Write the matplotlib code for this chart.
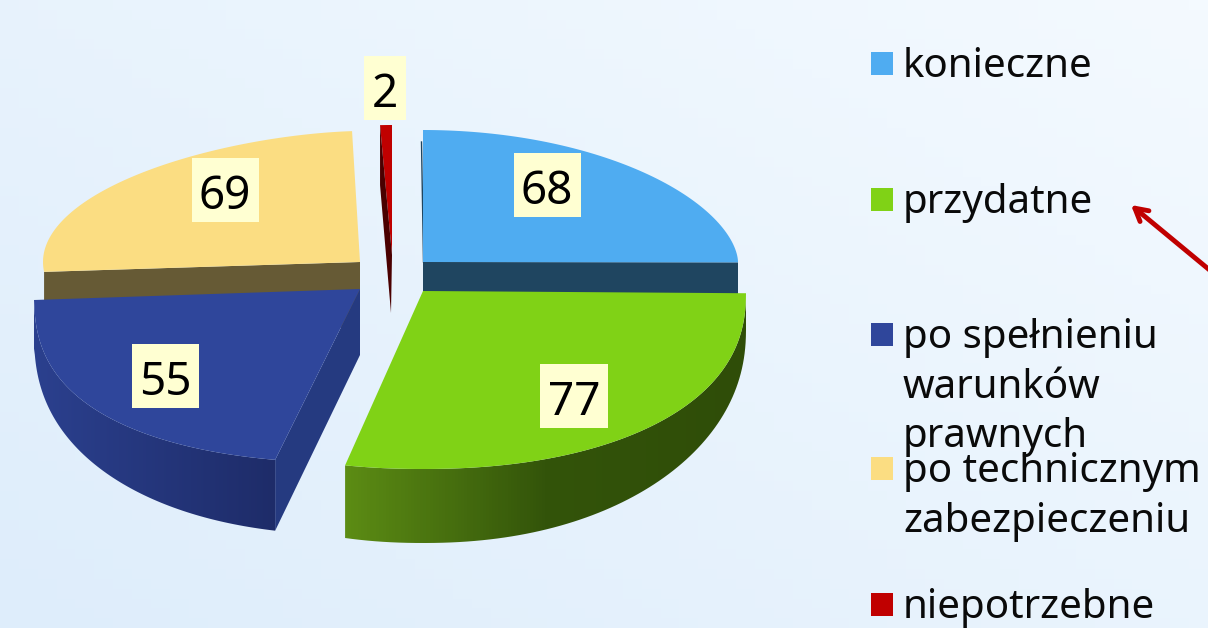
import numpy as np
import matplotlib
matplotlib.use("Agg")
import matplotlib.pyplot as plt
from matplotlib.colors import LinearSegmentedColormap
from matplotlib.patches import Polygon, Rectangle

# data
categories = ["konieczne", "przydatne", "po spełnieniu\nwarunków\nprawnych",
              "po technicznym\nzabezpieczeniu", "niepotrzebne"]
values = [68, 77, 55, 69, 2]
top_colors = ["#4facf1", "#80d216", "#2f469b", "#fbdd82", "#c00000"]
side_colors = ["#1f4560", "#3a5a0a", "#253a80", "#665a35", "#4a0000"]
wall_colors = [None, ("#5c8c14", "#33540a", "#2f4d08"), ("#2b408e", "#1e2c69"), None, None]

# per wedge look: apex x, apex y, rx, ry, y exponent, x exponent, depth at side, extra depth at front
wedge_geo = [
    (423, 262, 315, 132, 1.15, 1.0, 65, 0),
    (423, 291, 323, 178, 0.85, 0.935, 37, 37),
    (360, 289, 326, 174, 0.75, 0.885, 40, 32),
    (360, 262, 317, 131, 1.0, 1.2, 65, 0),
    (392, 255, 258, 130, 1.0, 1.0, 58, 0),
]
label_centers = [(547, 185), (574, 396), (165, 376), (225, 190), (385, 88)]
label_widths = [67, 68, 67, 67, 42]
legend_y = [77, 213, 348, 482, 618]
FONT = "Noto Sans"

angles = np.concatenate([[0], np.cumsum(values)]) * 360.0 / sum(values)


def arc_points(geo, t0, t1, n=80):
    ax0, ay0, rx, ry, p, q = geo[:6]
    th = np.radians(np.linspace(t0, t1, n))
    c = np.cos(th)
    s = np.sin(th)
    x = ax0 + rx * np.sign(s) * np.abs(s) ** q
    y = ay0 - ry * np.sign(c) * np.abs(c) ** p
    return x, y


def depth(geo, t):
    return geo[6] + geo[7] * np.maximum(0, -np.cos(np.radians(t))) ** 1.5


fig = plt.figure(figsize=(12.08, 6.28), dpi=100)
ax = fig.add_axes([0, 0, 1, 1])
ax.set_xlim(0, 1208)
ax.set_ylim(628, 0)
ax.axis("off")

# background
bg = LinearSegmentedColormap.from_list("bg", ["#deedfb", "#f4faff"])
yy, xx = np.mgrid[0:1:64j, 0:1:64j]
ax.imshow(0.55 * xx + 0.45 * (1 - yy), cmap=bg, extent=(0, 1208, 628, 0), aspect="auto", zorder=0)
ax.set_xlim(0, 1208)
ax.set_ylim(628, 0)


def gradient_poly(px, py, cols, z):
    poly = Polygon(np.column_stack([px, py]), closed=True, fc="none", ec="none", transform=ax.transData)
    ax.add_patch(poly)
    cm = LinearSegmentedColormap.from_list("w", list(cols))
    im = ax.imshow(np.linspace(0, 1, 128).reshape(1, -1), cmap=cm, aspect="auto", zorder=z,
                   extent=(min(px), max(px), max(py), min(py)))
    im.set_clip_path(poly)
    ax.set_xlim(0, 1208)
    ax.set_ylim(628, 0)


# back wedges first: yellow, blue, red, then the front ones
order = [3, 0, 4, 2, 1]
for k, i in enumerate(order):
    geo = wedge_geo[i]
    t0, t1 = angles[i], angles[i + 1]
    z = 2 + k
    x, y = arc_points(geo, t0, t1)
    ts = np.linspace(t0, t1, 80)
    d = depth(geo, ts)

    # cut face that looks at the viewer
    if i in (0, 3, 2):
        t_side = t1 if i == 0 else t0
        sx, sy = arc_points(geo, t_side, t_side, 1)
        dd = depth(geo, t_side)
        ax.add_patch(Polygon([(geo[0], geo[1]), (sx[0], sy[0]), (sx[0], sy[0] + dd),
                              (geo[0], geo[1] + geo[6] + 26 * (i == 2))],
                             closed=True, fc=side_colors[i], ec="none", zorder=z))
    if i == 4:
        ax.add_patch(Polygon([(geo[0], geo[1]), (x[0], y[0]), (x[0], y[0] + 60), (391, 313)],
                             closed=True, fc=side_colors[i], ec="none", zorder=z + 0.5))

    # navy wedge has a sharp back corner above the arc end
    if i == 2:
        x = np.r_[x, 34]
        y = np.r_[y, 300]
        d = np.r_[d, d[-1] + 8]

    # outer wall
    if wall_colors[i] is not None:
        px = np.concatenate([x, x[::-1]])
        py = np.concatenate([y, (y + d)[::-1]])
        gradient_poly(px, py, wall_colors[i], z)

    # top face
    ax.add_patch(Polygon(np.column_stack([np.r_[geo[0], x], np.r_[geo[1], y]]), closed=True,
                         fc=top_colors[i], ec="none", zorder=z + 0.2))

# thin dark edge on the blue wedge
ax.plot([421.5, 423.5], [142, 262], color=side_colors[0], lw=1, zorder=3.1)

# value labels
for v, (cx, cy), w in zip(values, label_centers, label_widths):
    ax.add_patch(Rectangle((cx - w / 2, cy - 32), w, 64, fc="#ffffd2", ec="none", zorder=10))
    ax.text(cx, cy + 19, str(v), ha="center", va="baseline", fontsize=33, family=FONT, color="black", zorder=11)

# legend
for name, base, col in zip(categories, legend_y, top_colors):
    ax.add_patch(Rectangle((871, base - 25), 22, 23, fc=col, ec="none", zorder=10))
    for j, line in enumerate(name.split("\n")):
        ax.text(903, base + j * 49.5, line, ha="left", va="baseline", fontsize=29, family=FONT, color="#0a0a0a", zorder=11)

# arrow that runs off the right edge
ax.annotate("", xy=(1131, 205), xytext=(1212, 272),
            arrowprops=dict(arrowstyle="->,head_length=0.9,head_width=0.5", color="#c00000", lw=3.5,
                            shrinkA=0, shrinkB=0), zorder=12, annotation_clip=False)

fig.savefig("out.png", dpi=100)
